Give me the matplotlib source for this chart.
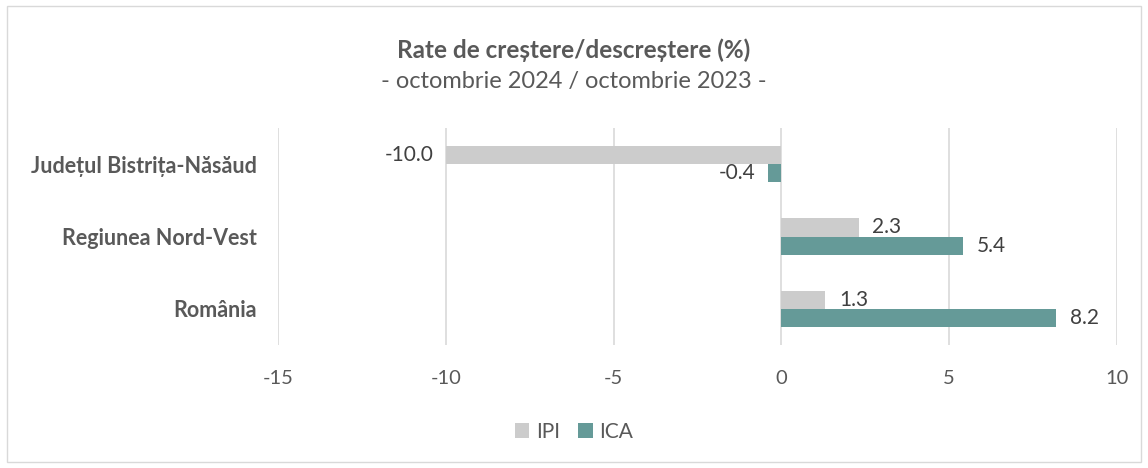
import matplotlib
matplotlib.use("Agg")
import matplotlib.pyplot as plt
from matplotlib.patches import Rectangle
import numpy as np

categories = ["Județul Bistrița-Năsăud", "Regiunea Nord-Vest", "România"]
ipi = [-10.0, 2.3, 1.3]
ica = [-0.4, 5.4, 8.2]
series_names = ["IPI", "ICA"]
xticks = [-15, -10, -5, 0, 5, 10]

plt.rcParams['font.family'] = ['Lato', 'DejaVu Sans']
TXT = '#595959'
C_IPI = '#cccccc'
C_ICA = '#659a98'

fig = plt.figure(figsize=(11.48, 4.68), dpi=100)
fig.patches.append(Rectangle((0.006, 0.012), 0.988, 0.976, transform=fig.transFigure,
                             fill=False, edgecolor='#d9d9d9', linewidth=1.0))
ax = fig.add_axes([0.2422, 0.2628, 0.7307, 0.4637])

y = np.arange(len(categories))
h = 0.25
b1 = ax.barh(y - h/2, ipi, height=h, color=C_IPI, label=series_names[0])
b2 = ax.barh(y + h/2, ica, height=h, color=C_ICA, label=series_names[1])
ax.set_xlim(-15, 10)
ax.set_ylim(2.5, -0.5)
ax.set_xticks(xticks)
ax.set_xticklabels([str(t) for t in xticks])
ax.set_yticks(y)
ax.set_yticklabels(categories, fontweight='bold', fontsize=15.5)
ax.tick_params(axis='both', length=0, colors=TXT)
ax.tick_params(axis='x', labelsize=14.5, pad=18)
ax.tick_params(axis='y', pad=15)
for s in ax.spines.values():
    s.set_visible(False)
ax.grid(axis='x', color='#d9d9d9', linewidth=1.2)
ax.set_axisbelow(True)

for bars, vals in ((b1, ipi), (b2, ica)):
    for bar, v in zip(bars, vals):
        yc = bar.get_y() + bar.get_height()/2
        if v < 0:
            ax.annotate(f"{v:.1f}", (v, yc), xytext=(-9, 0), textcoords='offset points',
                        ha='right', va='center', fontsize=15, color='#404040')
        else:
            ax.annotate(f"{v:.1f}", (v, yc), xytext=(10, 0), textcoords='offset points',
                        ha='left', va='center', fontsize=15, color='#404040')

fig.text(0.5, 0.893, "Rate de creștere/descreștere (%)", ha='center', va='center',
         fontsize=17.5, fontweight='bold', color=TXT)
fig.text(0.5, 0.825, "- octombrie 2024 / octombrie 2023 -", ha='center', va='center',
         fontsize=17, color=TXT)

leg = fig.legend(handles=[b1, b2], labels=series_names, loc='center', bbox_to_anchor=(0.5, 0.077),
                 ncol=2, frameon=False, fontsize=15, handlelength=0.7, handleheight=0.7,
                 handletextpad=0.3, columnspacing=0.9, labelcolor=TXT)

fig.savefig("out.png", dpi=100)
